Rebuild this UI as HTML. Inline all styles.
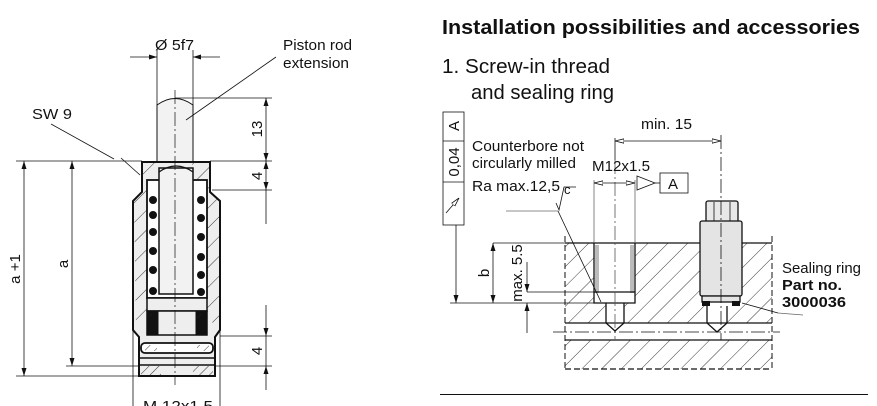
<!DOCTYPE html>
<html><head><meta charset="utf-8"><style>
html,body{margin:0;padding:0;background:#fff;}
svg{display:block;font-family:"Liberation Sans",Arial,sans-serif;}
</style></head><body>
<svg width="877" height="406" viewBox="0 0 877 406" xmlns="http://www.w3.org/2000/svg">
<defs>
<pattern id="h" width="14" height="14" patternUnits="userSpaceOnUse" patternTransform="rotate(45)">
<line x1="0" y1="0" x2="0" y2="14" stroke="#222" stroke-width="0.9"/></pattern>
<pattern id="hs" width="7" height="7" patternUnits="userSpaceOnUse" patternTransform="rotate(45)">
<line x1="0" y1="0" x2="0" y2="7" stroke="#222" stroke-width="0.9"/></pattern>
<marker id="a" markerWidth="8" markerHeight="6" refX="8" refY="3" orient="auto-start-reverse" markerUnits="userSpaceOnUse">
<path d="M0,0.5 L8,3 L0,5.5 Z" fill="#111"/></marker>
<marker id="o" markerWidth="9" markerHeight="6" refX="9" refY="3" orient="auto-start-reverse" markerUnits="userSpaceOnUse">
<path d="M0,0.8 L9,3 L0,5.2 Z" fill="#fff" stroke="#111" stroke-width="0.8"/></marker>
</defs>

<!-- ===== LEFT DRAWING ===== -->
<g stroke="#111" fill="none">
<path d="M157,105 Q175,92 193,105 L193,162 L157,162 Z" fill="#f2f2f2" stroke-width="1"/>
<path d="M142,162 L210,162 L210,192 L220,201 L220,330 L215,337 L215,376 L139,376 L139,337 L133,330 L133,201 L142,192 Z" fill="#eee" stroke-width="2"/>
<path d="M142,163 L158,163 L158,178 L148,190 L148,310 L139,320 L136,330 L134,201 L142,193Z" fill="url(#h)" stroke="none"/>
<path d="M192,163 L209,163 L209,192 L219,201 L219,330 L210,320 L205,310 L205,190 L193,178Z" fill="url(#h)" stroke="none"/>
<rect x="147" y="180" width="60" height="118" fill="#fff" stroke-width="1.8"/>
<rect x="159" y="168" width="34" height="126" fill="#f2f2f2" stroke-width="1.5"/>
<path d="M159,172 Q176,160 193,172" stroke-width="1.2"/>
<rect x="147" y="298" width="60" height="13" fill="#eee" stroke-width="1.5"/>
<rect x="147" y="311" width="60" height="24" fill="#eee" stroke-width="1.5"/>
<rect x="148" y="312" width="10" height="22" fill="#111"/>
<rect x="196" y="312" width="10" height="22" fill="#111"/>
<rect x="150" y="314" width="7" height="5" fill="url(#hs)" stroke="none"/>
<rect x="197" y="314" width="7" height="5" fill="url(#hs)" stroke="none"/>
<rect x="141" y="343" width="72" height="10" rx="4" fill="#fff" stroke-width="1.8"/>
<rect x="145" y="345" width="12" height="6" fill="url(#hs)" stroke="none"/>
<rect x="197" y="345" width="12" height="6" fill="url(#hs)" stroke="none"/>
<line x1="140" y1="358" x2="214" y2="358" stroke-width="1.5"/>
<rect x="141" y="366" width="20" height="9" fill="url(#hs)" stroke="none"/>
<rect x="193" y="366" width="20" height="9" fill="url(#hs)" stroke="none"/>
<line x1="139" y1="365" x2="215" y2="365" stroke-width="1.5"/>
</g>
<g fill="#111">
<circle cx="153" cy="200" r="4"/><circle cx="153" cy="215" r="4"/><circle cx="153" cy="232" r="4"/><circle cx="153" cy="251" r="4"/><circle cx="153" cy="270" r="4"/><circle cx="153" cy="291" r="4"/>
<circle cx="201" cy="200" r="4"/><circle cx="201" cy="218" r="4"/><circle cx="201" cy="237" r="4"/><circle cx="201" cy="257" r="4"/><circle cx="201" cy="275" r="4"/><circle cx="201" cy="292" r="4"/>
</g>
<line x1="175" y1="90" x2="175" y2="385" stroke="#111" stroke-width="0.7" stroke-dasharray="14,3,2,3"/>
<g stroke="#111" stroke-width="0.8" fill="none">
<line x1="16" y1="161" x2="142" y2="161"/>
<line x1="16" y1="376" x2="139" y2="376"/>
<line x1="66" y1="366" x2="139" y2="366"/>
<line x1="24" y1="161" x2="24" y2="376" marker-start="url(#a)" marker-end="url(#a)"/>
<line x1="72" y1="161" x2="72" y2="366" marker-start="url(#a)" marker-end="url(#a)"/>
<line x1="157" y1="50" x2="157" y2="105"/><line x1="193" y1="50" x2="193" y2="105"/>
<line x1="130" y1="57" x2="157" y2="57" marker-end="url(#a)"/>
<line x1="220" y1="57" x2="193" y2="57" marker-end="url(#a)"/>
<line x1="175" y1="98" x2="272" y2="98"/>
<line x1="210" y1="161" x2="272" y2="161"/>
<line x1="212" y1="190" x2="272" y2="190"/>
<line x1="220" y1="336" x2="272" y2="336"/>
<line x1="215" y1="366" x2="272" y2="366"/>
<line x1="266" y1="98" x2="266" y2="161" marker-start="url(#a)" marker-end="url(#a)"/>
<line x1="266" y1="161" x2="266" y2="190" marker-start="url(#a)" marker-end="url(#a)"/>
<line x1="266" y1="190" x2="266" y2="224"/>
<line x1="266" y1="305" x2="266" y2="336" marker-end="url(#a)"/>
<line x1="266" y1="336" x2="266" y2="366"/>
<line x1="266" y1="390" x2="266" y2="366" marker-end="url(#a)"/>
<line x1="133" y1="330" x2="133" y2="406"/><line x1="220" y1="330" x2="220" y2="406"/>
<line x1="276" y1="57" x2="186" y2="120"/>
<line x1="51" y1="124" x2="114" y2="159"/>
<line x1="121" y1="158" x2="140" y2="175"/>
</g>
<g font-size="15" fill="#111">
<text x="155" y="50" textLength="39" lengthAdjust="spacingAndGlyphs">Ø 5f7</text>
<text x="283" y="50" textLength="69" lengthAdjust="spacingAndGlyphs">Piston rod</text>
<text x="283" y="68" textLength="66" lengthAdjust="spacingAndGlyphs">extension</text>
<text x="32" y="119" textLength="40" lengthAdjust="spacingAndGlyphs">SW 9</text>
<text x="143" y="411" textLength="70" lengthAdjust="spacingAndGlyphs">M 12x1.5</text>
<text transform="translate(20,269) rotate(-90)" text-anchor="middle">a +1</text>
<text transform="translate(68,264) rotate(-90)" text-anchor="middle">a</text>
<text transform="translate(262,129) rotate(-90)" text-anchor="middle">13</text>
<text transform="translate(262,176) rotate(-90)" text-anchor="middle">4</text>
<text transform="translate(262,351) rotate(-90)" text-anchor="middle">4</text>
</g>

<!-- ===== RIGHT ===== -->
<text x="442" y="34" font-size="20" font-weight="bold" fill="#111" textLength="418" lengthAdjust="spacingAndGlyphs">Installation possibilities and accessories</text>
<text x="442" y="73" font-size="20" fill="#111" textLength="168" lengthAdjust="spacingAndGlyphs">1. Screw-in thread</text>
<text x="471" y="99" font-size="20" fill="#111" textLength="143" lengthAdjust="spacingAndGlyphs">and sealing ring</text>

<rect x="565" y="243" width="207" height="80" fill="url(#h)"/>
<rect x="565" y="340" width="207" height="29" fill="url(#h)"/>
<rect x="565" y="323" width="207" height="17" fill="#fff"/>
<rect x="594" y="243" width="41" height="60" fill="#fff"/>
<path d="M606,303 L606,323 L615,331 L624,323 L624,303 Z" fill="#fff"/>
<path d="M700,243 L742,243 L742,304 L700,304Z" fill="#fff"/>
<path d="M707,304 L707,323 L717,332 L727,323 L727,304 Z" fill="#fff"/>
<g stroke="#111" fill="none" stroke-width="1.3">
<line x1="565" y1="243" x2="772" y2="243"/>
<line x1="565" y1="323" x2="772" y2="323"/>
<line x1="565" y1="340" x2="772" y2="340"/>
<line x1="565" y1="369" x2="772" y2="369" stroke-dasharray="6,3"/>
<line x1="565" y1="236" x2="565" y2="369" stroke-dasharray="6,3" stroke-width="1"/>
<line x1="772" y1="236" x2="772" y2="369" stroke-dasharray="6,3" stroke-width="1"/>
<path d="M594,243 L594,303 L635,303 L635,243"/>
<rect x="595" y="245" width="4" height="48" fill="#bbb" stroke="none"/>
<rect x="630" y="245" width="4" height="48" fill="#bbb" stroke="none"/>
<line x1="594" y1="292" x2="635" y2="292"/>
<path d="M606,303 L606,323 L615,331 L624,323 L624,303"/>
<rect x="706" y="201" width="32" height="21" fill="#e8e8e8" rx="2"/>
<line x1="714" y1="202" x2="714" y2="221" stroke-width="0.8"/><line x1="730" y1="202" x2="730" y2="221" stroke-width="0.8"/>
<rect x="700" y="221" width="42" height="75" fill="#e4e4e4" rx="2"/>
<rect x="702" y="296" width="38" height="6" fill="#e4e4e4"/>
<rect x="702" y="301" width="8" height="5" fill="#111" stroke="none"/>
<rect x="732" y="301" width="8" height="5" fill="#111" stroke="none"/>
<path d="M707,306 L707,323 L717,332 L727,323 L727,306"/>
</g>
<g stroke="#111" stroke-width="0.8" fill="none">
<line x1="553" y1="332" x2="780" y2="332" stroke-dasharray="14,3,2,3"/>
<line x1="615" y1="160" x2="615" y2="340" stroke-dasharray="14,3,2,3" stroke="#555"/>
<line x1="721" y1="135" x2="721" y2="340" stroke-dasharray="14,3,2,3"/>
<line x1="615" y1="138" x2="615" y2="160"/>
<line x1="615" y1="141" x2="721" y2="141" marker-start="url(#o)" marker-end="url(#o)"/>
<line x1="594" y1="180" x2="594" y2="243" stroke="#666"/>
<line x1="635" y1="180" x2="635" y2="243" stroke="#666"/>
<line x1="594" y1="183" x2="635" y2="183" marker-start="url(#o)" marker-end="url(#o)"/>
<path d="M637,176 L655,183 L637,190 Z"/>
<line x1="655" y1="183" x2="660" y2="183"/>
<rect x="660" y="173" width="28" height="20"/>
<rect x="443" y="112" width="21" height="113"/>
<line x1="443" y1="141" x2="464" y2="141"/><line x1="443" y1="182" x2="464" y2="182"/>
<line x1="446" y1="213" x2="459" y2="198" marker-end="url(#o)"/>
<line x1="456" y1="225" x2="456" y2="303" marker-end="url(#a)"/>
<line x1="450" y1="303" x2="594" y2="303"/>
<line x1="493" y1="243" x2="594" y2="243"/>
<line x1="493" y1="243" x2="493" y2="303" marker-start="url(#a)" marker-end="url(#a)"/>
<line x1="527" y1="292" x2="594" y2="292"/>
<line x1="527" y1="262" x2="527" y2="292" marker-end="url(#a)"/>
<line x1="527" y1="333" x2="527" y2="303" marker-end="url(#a)"/>
<line x1="506" y1="211" x2="558" y2="211" stroke="#666"/>
<path d="M556,203 L559,210 L564,187 L576,187"/>
<line x1="558" y1="211" x2="601" y2="302"/>
<line x1="742" y1="303" x2="778" y2="313"/>
<line x1="778" y1="313" x2="803" y2="315" stroke="#666"/>
</g>
<g font-size="15" fill="#111">
<text x="641" y="129" textLength="51" lengthAdjust="spacingAndGlyphs">min. 15</text>
<text x="592" y="171" textLength="58" lengthAdjust="spacingAndGlyphs">M12x1.5</text>
<text x="668" y="189">A</text>
<text x="472" y="151" textLength="112" lengthAdjust="spacingAndGlyphs">Counterbore not</text>
<text x="472" y="168" textLength="104" lengthAdjust="spacingAndGlyphs">circularly milled</text>
<text x="472" y="191" textLength="88" lengthAdjust="spacingAndGlyphs">Ra max.12,5</text>
<text x="564" y="194" font-size="13">c</text>
<text transform="translate(459,126) rotate(-90)" text-anchor="middle">A</text>
<text transform="translate(459,162) rotate(-90)" text-anchor="middle">0,04</text>
<text transform="translate(489,273) rotate(-90)" text-anchor="middle">b</text>
<text transform="translate(522,273) rotate(-90)" text-anchor="middle">max. 5.5</text>
<text x="782" y="273" textLength="79" lengthAdjust="spacingAndGlyphs">Sealing ring</text>
<text x="782" y="290" font-weight="bold" textLength="60" lengthAdjust="spacingAndGlyphs">Part no.</text>
<text x="782" y="307" font-weight="bold" textLength="64" lengthAdjust="spacingAndGlyphs">3000036</text>
</g>
<line x1="440" y1="394.5" x2="868" y2="394.5" stroke="#111" stroke-width="1"/>
</svg>
</body></html>
